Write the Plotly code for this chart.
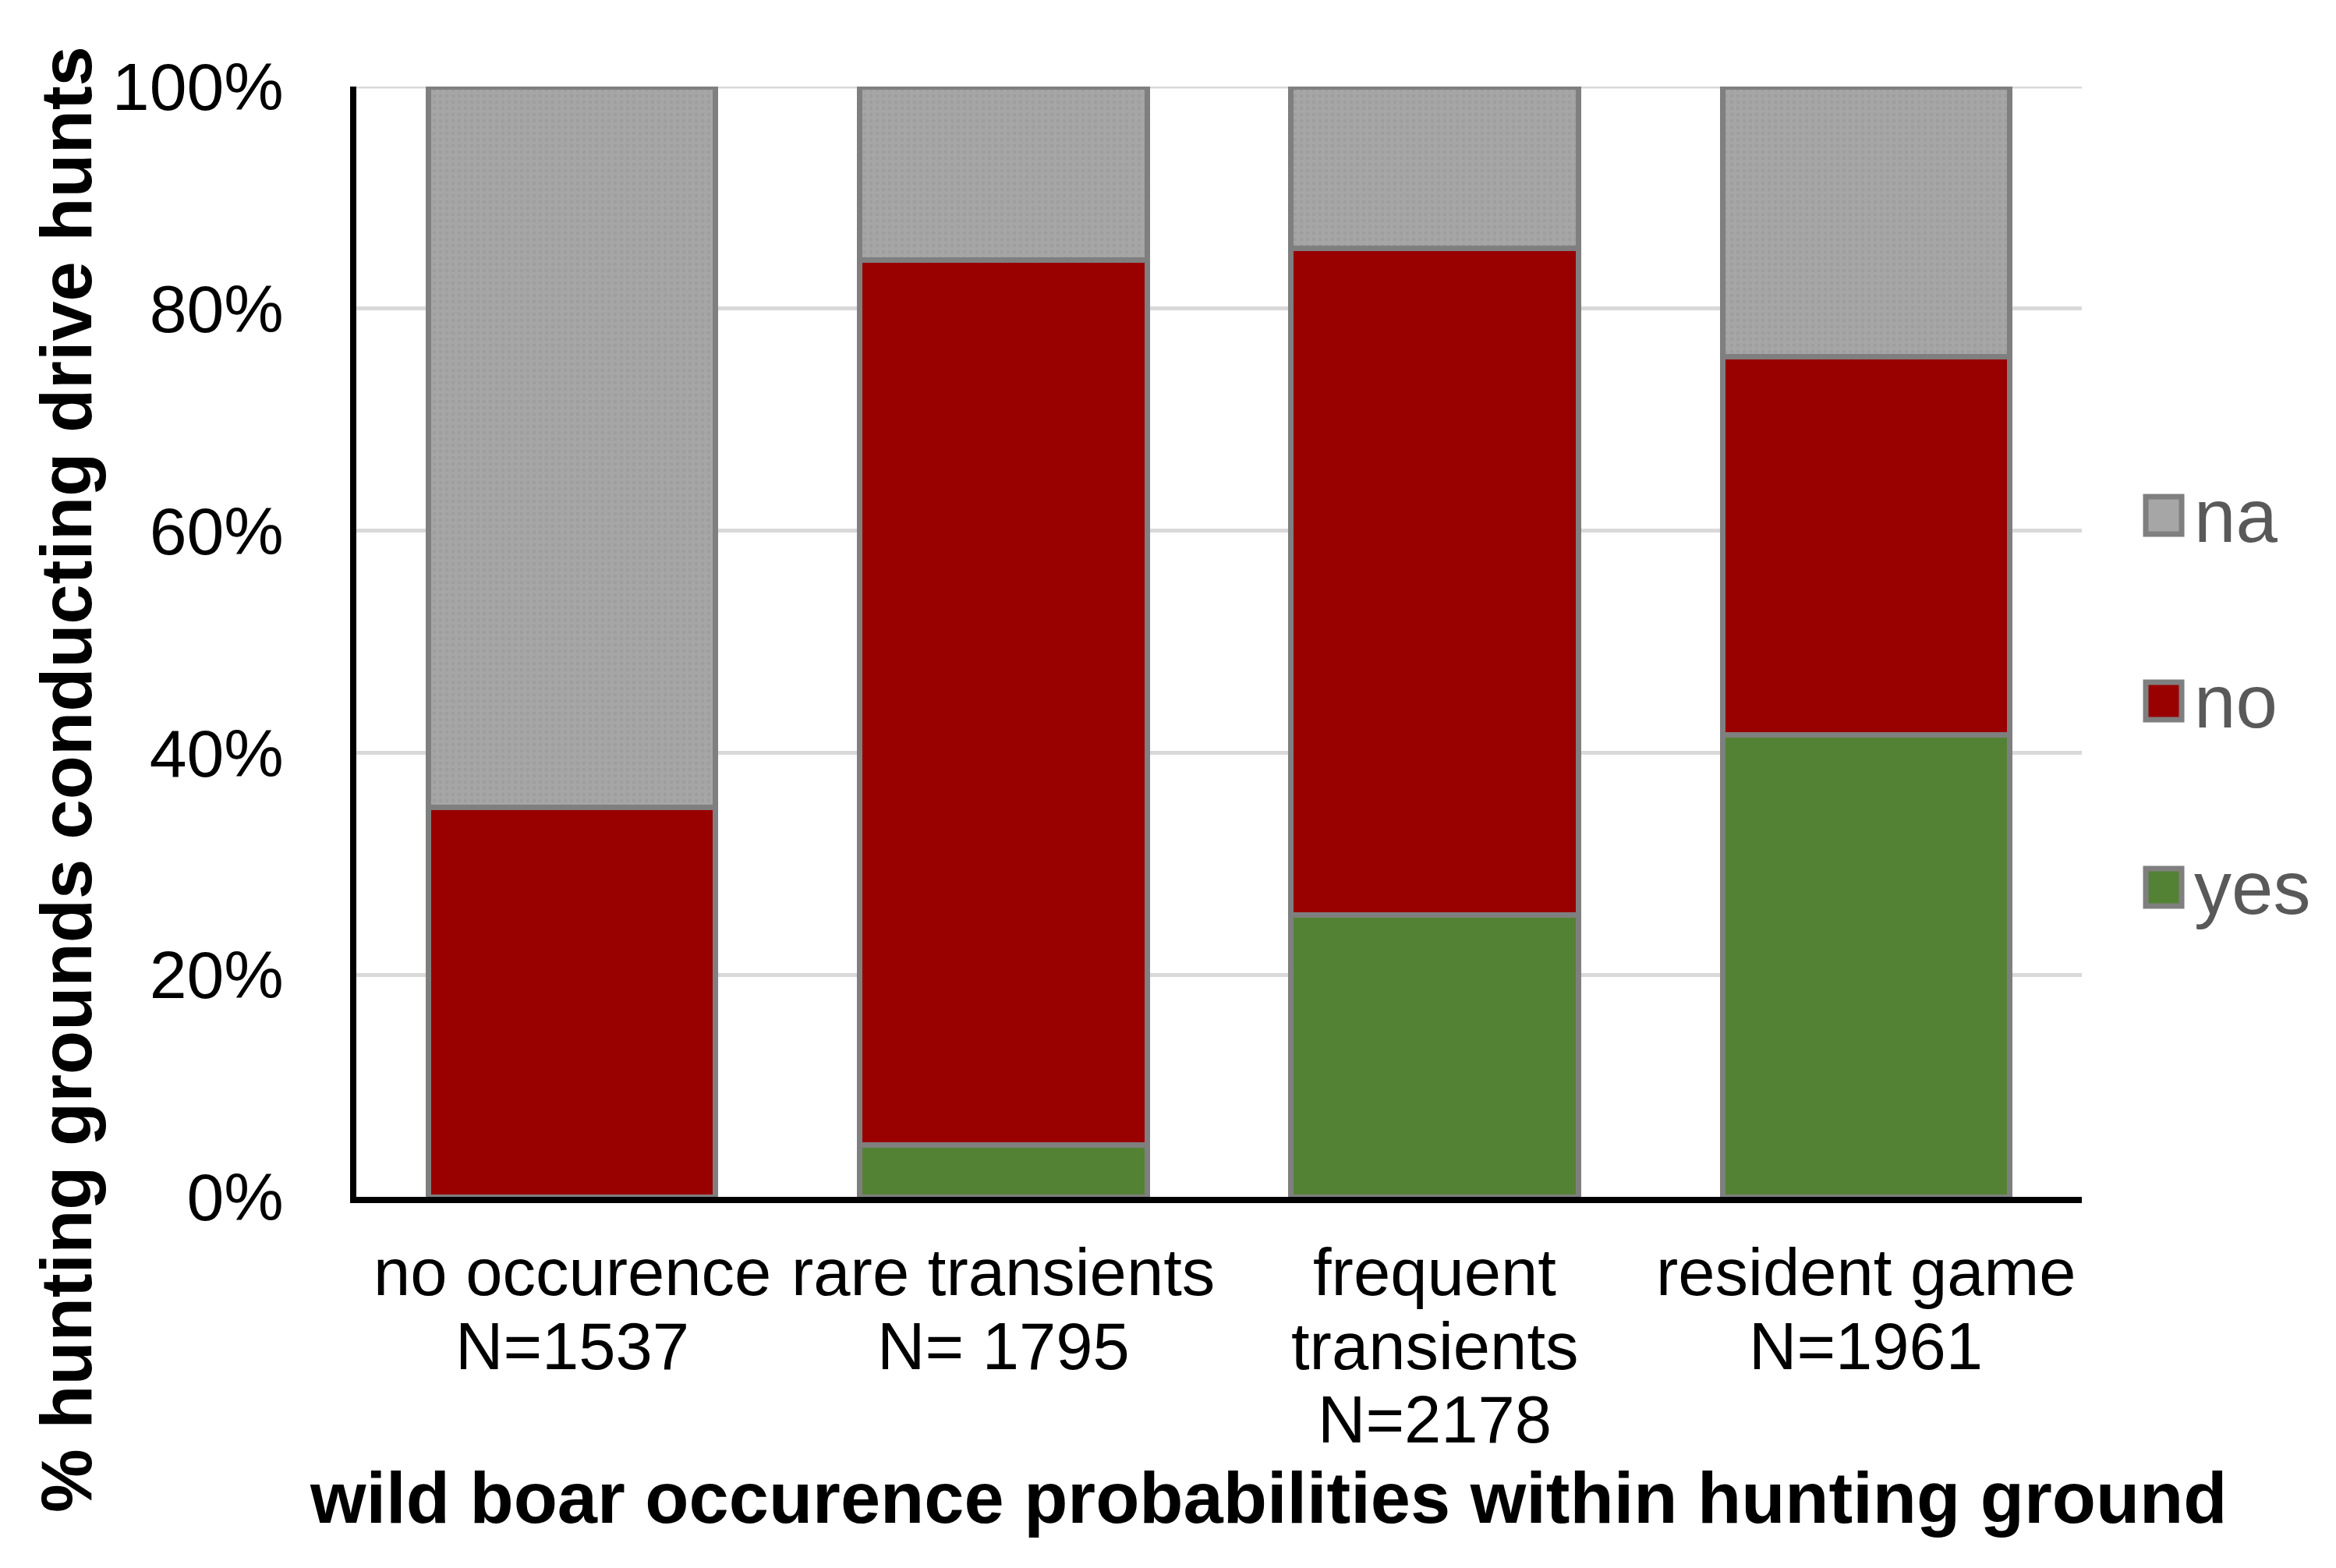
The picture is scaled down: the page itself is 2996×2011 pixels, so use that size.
import plotly.graph_objects as go

categories = ["no occurence", "rare transients", "frequent transients", "resident game"]
label_line1 = ["no occurence", "rare transients", "frequent", "resident game"]
label_line2 = ["N=1537", "N= 1795", "transients", "N=1961"]
label_line3 = ["", "", "N=2178", ""]

yes_vals = [0.0, 4.7, 25.4, 41.6]
no_vals = [35.1, 79.7, 60.0, 34.1]
na_vals = [64.9, 15.6, 14.6, 24.3]

y_ticks = [0, 20, 40, 60, 80, 100]
y_tick_text = [f"{v}%" for v in y_ticks]

series_names = ["na", "no", "yes"]

W, H = 2996, 2011
L, R, T, B = 449, 2662, 103, 1527  # plot area in pixels
FONT = "Liberation Sans, Arial, sans-serif"
BORDER = "#7F7F7F"
GRAY = "#A6A6A6"
RED = "#990000"
GREEN = "#548235"


def px(x):
    return (x - L) / (R - L)


def py(y):
    return (B - y) / (B - T)


fig = go.Figure()
fig.add_trace(go.Bar(x=categories, y=yes_vals, name="yes", width=0.666,
                     marker=dict(color=GREEN, line=dict(color=BORDER, width=7))))
fig.add_trace(go.Bar(x=categories, y=no_vals, name="no", width=0.666,
                     marker=dict(color=RED, line=dict(color=BORDER, width=7))))
fig.add_trace(go.Bar(x=categories, y=na_vals, name="na", width=0.666,
                     marker=dict(color=GRAY, line=dict(color=BORDER, width=7),
                                 pattern=dict(shape=".", bgcolor=GRAY, fgcolor="#959595",
                                              size=8, solidity=0.3))))

annotations = []
line_y = [py(1623), py(1718), py(1813)]
for lines_idx, lines in enumerate([label_line1, label_line2, label_line3]):
    for cat, txt in zip(categories, lines):
        if txt:
            annotations.append(dict(x=cat, xref="x", y=line_y[lines_idx], yref="paper",
                                    text=txt, showarrow=False, xanchor="center", yanchor="middle",
                                    font=dict(family=FONT, size=85, color="black")))

# axis titles
annotations.append(dict(x=px(1618), xref="paper", y=py(1913), yref="paper",
                        text="<b>wild boar occurence probabilities within hunting ground</b>",
                        showarrow=False, xanchor="center", yanchor="middle",
                        font=dict(family=FONT, size=92, color="black")))
annotations.append(dict(x=px(77), xref="paper", y=py(992), yref="paper",
                        text="<b>% hunting grounds conducting drive hunts</b>", textangle=-90,
                        showarrow=False, xanchor="center", yanchor="middle",
                        font=dict(family=FONT, size=92, color="black")))

# custom legend
shapes = [dict(type="line", xref="paper", yref="y", x0=0, x1=1, y0=100, y1=100,
               line=dict(color="#D9D9D9", width=5), layer="below")]
legend_colors = {"na": GRAY, "no": RED, "yes": GREEN}
legend_centers = {"na": 653, "no": 891, "yes": 1130}
for name in series_names:
    cy = legend_centers[name]
    shapes.append(dict(type="rect", xref="paper", yref="paper",
                       x0=px(2744), x1=px(2790), y0=py(cy + 24), y1=py(cy - 24),
                       fillcolor=legend_colors[name], line=dict(color=BORDER, width=7)))
    annotations.append(dict(x=px(2804), xref="paper", y=py(cy), yref="paper",
                            text=name, showarrow=False, xanchor="left", yanchor="middle",
                            font=dict(family=FONT, size=96, color="#595959")))

fig.update_layout(
    width=W, height=H, autosize=False,
    margin=dict(l=L, r=W - R, t=T, b=H - B, pad=0),
    paper_bgcolor="white", plot_bgcolor="white",
    barmode="stack", showlegend=False,
    xaxis=dict(type="category", range=[-0.5, 3.5], showticklabels=False, showgrid=False,
               showline=True, linecolor="black", linewidth=8, ticks="", zeroline=False),
    yaxis=dict(range=[0, 100], tickvals=y_ticks, ticktext=y_tick_text, showgrid=True,
               gridcolor="#D9D9D9", gridwidth=5, showline=True, linecolor="black", linewidth=8,
               ticks="", zeroline=False, ticklabelstandoff=68,
               tickfont=dict(family=FONT, size=86, color="black")),
    annotations=annotations, shapes=shapes,
)

fig.write_html("out.html")
